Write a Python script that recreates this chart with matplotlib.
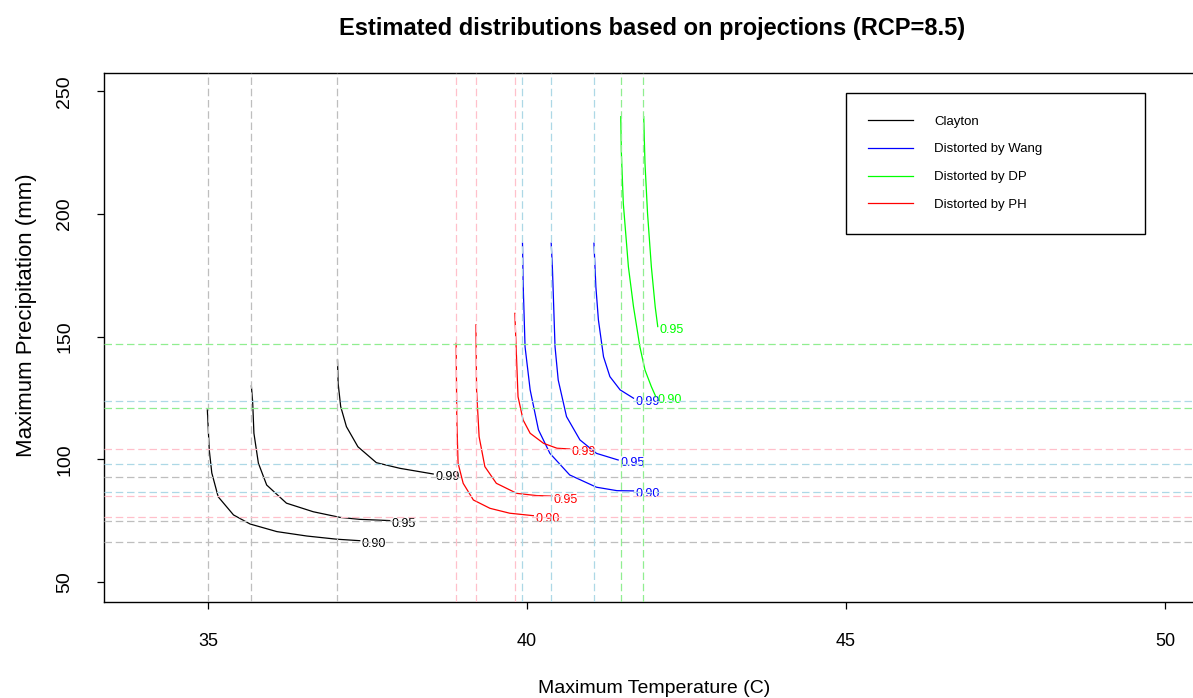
# contour curves of the estimated joint distributions (RCP=8.5), redrawn from the R plot
import numpy as np
import matplotlib
matplotlib.use('Agg')
import matplotlib.pyplot as plt

plt.rcParams['font.family'] = ['Liberation Sans', 'DejaVu Sans']

levels = ['0.90', '0.95', '0.99']

# Clayton copula contours (black)
clayton_x = [[34.99, 35.02, 35.06, 35.16, 35.40, 35.66, 36.08, 36.55, 37.02, 37.38],
             [35.68, 35.70, 35.72, 35.79, 35.92, 36.23, 36.65, 37.07, 37.38, 37.85],
             [37.03, 37.04, 37.08, 37.17, 37.35, 37.64, 38.01, 38.53]]
clayton_y = [[120.1, 103.8, 94.4, 84.7, 77.3, 73.6, 70.5, 68.7, 67.4, 66.8],
             [129.9, 123.5, 110.6, 98.4, 89.5, 82.1, 78.6, 76.3, 75.5, 75.0],
             [140.5, 131.0, 121.5, 113.3, 105.1, 98.6, 96.3, 94.0]]

# distorted by Wang (blue)
wang_x = [[39.93, 39.94, 39.97, 40.05, 40.18, 40.36, 40.67, 41.09, 41.41, 41.67],
          [40.38, 40.40, 40.44, 40.49, 40.62, 40.83, 41.09, 41.43],
          [41.05, 41.08, 41.12, 41.20, 41.30, 41.46, 41.67]]
wang_y = [[188.1, 171.8, 145.9, 128.3, 112.0, 102.4, 93.6, 88.6, 87.2, 87.1],
          [188.1, 177.2, 145.9, 132.3, 117.4, 107.9, 102.4, 99.7],
          [188.1, 170.4, 156.8, 141.8, 133.7, 128.3, 124.9]]

# distorted by DP (green), only 0.90 and 0.95 in range
dp_x = [[41.47, 41.48, 41.51, 41.59, 41.67, 41.77, 41.85, 41.95, 42.02],
        [41.83, 41.85, 41.89, 41.95, 42.01, 42.05]]
dp_y = [[239.7, 224.8, 204.4, 178.5, 162.2, 145.9, 136.4, 129.6, 125.5],
        [239.7, 220.7, 200.3, 178.5, 162.2, 154.1]]

# distorted by PH (red)
ph_x = [[38.89, 38.90, 38.92, 39.00, 39.16, 39.42, 39.73, 40.10],
        [39.20, 39.21, 39.25, 39.34, 39.52, 39.84, 40.15, 40.39],
        [39.81, 39.83, 39.86, 39.94, 40.05, 40.26, 40.47, 40.67]]
ph_y = [[147.3, 116.7, 98.4, 90.2, 83.4, 80.0, 78.0, 77.0],
        [154.8, 128.3, 109.2, 97.0, 90.2, 86.1, 85.2, 85.0],
        [159.5, 145.9, 125.5, 116.0, 110.6, 106.5, 104.5, 104.2]]

# marginal quantile reference lines
clayton_v = [35.0, 35.68, 37.02]
clayton_h = [66.4, 74.8, 92.9]
ph_v = [38.89, 39.20, 39.81]
ph_h = [76.6, 85.0, 104.1]
wang_v = [39.93, 40.38, 41.05]
wang_h = [86.8, 98.1, 123.6]
dp_v = [41.47, 41.82]
dp_h = [121.1, 147.2]

W, H = 1193, 698
fig = plt.figure(figsize=(W / 100, H / 100), dpi=100)
ax = fig.add_axes([104 / W, (H - 602) / H, (1200 - 104) / W, (602 - 73) / H])

series = [(clayton_x, clayton_y, 'black', 'Clayton'),
          (wang_x, wang_y, 'blue', 'Distorted by Wang'),
          (dp_x, dp_y, '#00FF00', 'Distorted by DP'),
          (ph_x, ph_y, 'red', 'Distorted by PH')]

for xs, ys, col, name in series:
    for i in range(len(xs)):
        ax.plot(xs[i], ys[i], color=col, lw=0.9, zorder=2,
                label=name if i == 0 else None)
        ax.annotate(levels[i], xy=(xs[i][-1], ys[i][-1]), xytext=(1.5, -2.5),
                    textcoords='offset points', ha='left', va='center',
                    color=col, fontsize=9, zorder=2)

refs = [(clayton_v, clayton_h, '#BEBEBE'), (ph_v, ph_h, '#FFC0CB'),
        (wang_v, wang_h, '#ADD8E6'), (dp_v, dp_h, '#90EE90')]
for vs, hs, col in refs:
    for v in vs:
        ax.axvline(v, color=col, lw=0.9, ls=(0, (6, 3)), zorder=3)
    for h in hs:
        ax.axhline(h, color=col, lw=0.9, ls=(0, (6, 3)), zorder=3)

ax.set_xlim(33.37, 50.55)
ax.set_ylim(41.8, 257.5)
ax.set_xticks([35, 40, 45, 50])
ax.set_yticks([50, 100, 150, 200, 250])
ax.tick_params(axis='both', length=5, width=0.9, direction='out')
ax.tick_params(axis='x', labelsize=13, pad=17)
ax.tick_params(axis='y', labelsize=14, pad=17)
for lbl in ax.get_yticklabels():
    lbl.set_rotation(90)
    lbl.set_va('center')
for sp in ax.spines.values():
    sp.set_linewidth(1.0)

ax.set_xlabel('Maximum Temperature (C)', fontsize=14)
ax.xaxis.set_label_coords(0.502, -0.147)
ax.set_ylabel('Maximum Precipitation (mm)', fontsize=16, va='center')
ax.yaxis.set_label_coords(-0.071, 0.5425)
ax.set_title('Estimated distributions based on projections (RCP=8.5)',
             fontsize=17, fontweight='bold', pad=27)

leg = ax.legend(loc='upper left', mode='expand', fontsize=9.5,
                bbox_to_anchor=(846 / W, 1 - 232 / H, 299 / W, 139 / H),
                bbox_transform=fig.transFigure, borderaxespad=0,
                handlelength=3.4, handletextpad=1.6, borderpad=1.7,
                labelspacing=1.18, fancybox=False, framealpha=1,
                edgecolor='black')
leg.get_frame().set_linewidth(1.0)

fig.savefig('out.png', dpi=100)
